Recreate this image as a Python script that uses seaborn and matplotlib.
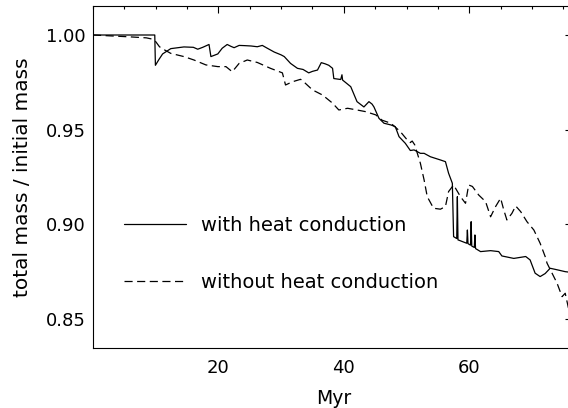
import numpy as np
import pandas as pd
import matplotlib
matplotlib.use("Agg")
import matplotlib.pyplot as plt
import seaborn as sns
from matplotlib.ticker import MultipleLocator, FixedLocator, FormatStrFormatter

# --- data ---
with_x = [0.0, 5.0, 9.85, 9.95, 10.5, 11.1, 12.4, 14.5, 16.0, 16.7, 17.5, 18.5, 18.8,
          19.9, 20.6, 21.4, 22.0, 22.5, 23.3, 24.1, 25.2, 26.2, 27.0, 27.8, 28.9, 30.0,
          30.5, 31.5, 32.6, 33.5, 34.4, 35.0, 35.8, 36.4, 37.0, 37.6, 38.2, 38.4, 39.5,
          39.7, 39.8, 41.1, 42.1, 43.2, 44.0, 44.5, 44.8, 45.6, 46.4, 47.5, 48.2, 48.8,
          49.8, 50.6, 51.2, 52.2, 52.8, 53.8, 55.4, 56.2, 56.7, 57.3, 57.5, 58.0, 58.1,
          58.2, 59.6, 59.7, 59.8, 60.2, 60.3, 60.4, 60.8, 60.9, 61.0, 61.8, 63.4, 64.7,
          65.2, 67.1, 69.0, 69.7, 70.5, 71.3, 72.1, 72.9, 74.0, 75.3, 76.5]
with_y = [1.000, 1.000, 1.000, 0.984, 0.987, 0.990, 0.9928, 0.9937, 0.9935, 0.9925,
          0.9935, 0.995, 0.9886, 0.990, 0.993, 0.995, 0.9940, 0.9933, 0.9945, 0.9944,
          0.9942, 0.9938, 0.9945, 0.9930, 0.9910, 0.9895, 0.9886, 0.9850, 0.9824,
          0.9818, 0.9800, 0.9808, 0.9815, 0.9854, 0.9848, 0.9840, 0.9824, 0.9770,
          0.9765, 0.9790, 0.9762, 0.9727, 0.9648, 0.9620, 0.9648, 0.9635, 0.9620,
          0.9560, 0.9534, 0.9525, 0.9516, 0.9463, 0.9428, 0.9390, 0.9393, 0.9375,
          0.9375, 0.9357, 0.9340, 0.9331, 0.9270, 0.9217, 0.8935, 0.8925, 0.9146,
          0.8918, 0.8900, 0.8970, 0.8898, 0.8890, 0.9014, 0.8885, 0.8878, 0.8944,
          0.8872, 0.8856, 0.8861, 0.8856, 0.8833, 0.8820, 0.8830, 0.8812, 0.8742,
          0.8724, 0.8740, 0.8768, 0.8760, 0.8750, 0.8745]

without_x = [0.0, 3.0, 6.0, 8.5, 9.5, 10.0, 10.6, 11.2, 12.4, 14.5, 16.1, 18.0, 19.9,
             21.2, 22.2, 23.3, 24.6, 26.2, 28.3, 30.2, 30.7, 31.8, 33.1, 33.6, 35.0,
             36.6, 38.2, 39.2, 40.6, 42.1, 43.5, 45.1, 46.1, 47.5, 49.0, 50.1, 50.6,
             50.9, 51.3, 52.2, 52.8, 53.3, 54.3, 55.4, 56.2, 56.7, 57.5, 58.6, 59.4,
             59.9, 60.5, 61.5, 62.6, 63.4, 64.2, 65.0, 65.5, 66.0, 66.8, 67.4, 68.2,
             69.2, 70.3, 71.3, 72.1, 72.4, 73.2, 74.0, 74.8, 75.3, 75.8, 76.5]
without_y = [1.000, 0.9995, 0.9990, 0.9985, 0.9978, 0.9965, 0.9938, 0.9925, 0.9903,
             0.9886, 0.9868, 0.9842, 0.9833, 0.9833, 0.9806, 0.9850, 0.9868, 0.9855,
             0.9824, 0.9800, 0.9736, 0.9753, 0.9766, 0.9753, 0.9710, 0.9683, 0.9640,
             0.9604, 0.9613, 0.9604, 0.9595, 0.9578, 0.9550, 0.9534, 0.9490, 0.9446,
             0.9432, 0.9440, 0.9420, 0.9323, 0.9234, 0.9146, 0.9085, 0.9080, 0.9094,
             0.9173, 0.9208, 0.9146, 0.9111, 0.9208, 0.9200, 0.9155, 0.9120, 0.9040,
             0.9094, 0.9138, 0.9076, 0.9023, 0.9058, 0.9097, 0.9067, 0.9014, 0.8970,
             0.8900, 0.8830, 0.8795, 0.8742, 0.8689, 0.8618, 0.8636, 0.8560, 0.8520]

labels = ["with heat conduction", "without heat conduction"]
x_label = "Myr"
y_label = "total mass / initial mass"
x_major = [20, 40, 60]

sns.set_theme(style="white")
plt.rcParams["font.family"] = ["DejaVu Sans"]

fig = plt.figure(figsize=(5.68, 4.08), dpi=100)
ax = fig.add_axes([93 / 568, 1 - 347.7 / 408, (574 - 93) / 568, (347.7 - 6) / 408])

df_w = pd.DataFrame({"x": with_x, "y": with_y})
df_wo = pd.DataFrame({"x": without_x, "y": without_y})

sns.lineplot(data=df_w, x="x", y="y", ax=ax, sort=False, estimator=None,
             color="black", lw=0.9, label=labels[0])
sns.lineplot(data=df_wo, x="x", y="y", ax=ax, sort=False, estimator=None,
             color="black", lw=0.9, label=labels[1])
ax.lines[1].set_linestyle((0, (6.5, 3.6)))

ax.set_xlim(0, 76.7)
ax.set_ylim(0.83484, 1.01532)

ax.xaxis.set_major_locator(FixedLocator(x_major))
ax.xaxis.set_minor_locator(MultipleLocator(5))
ax.yaxis.set_major_locator(MultipleLocator(0.05))
ax.yaxis.set_minor_locator(MultipleLocator(0.01))
ax.yaxis.set_major_formatter(FormatStrFormatter("%.2f"))
ax.xaxis.set_major_formatter(FormatStrFormatter("%d"))

ax.tick_params(which="both", direction="in", top=True, right=True,
               colors="black", width=0.8, labelsize=13)
ax.tick_params(axis="y", which="major", length=6.5, pad=5)
ax.tick_params(axis="y", which="minor", length=3.6)
ax.tick_params(axis="x", which="major", length=4.7, pad=8)
ax.tick_params(axis="x", which="minor", length=2.2)
for s in ax.spines.values():
    s.set_color("black")
    s.set_linewidth(0.8)

ax.set_xlabel(x_label, fontsize=13.5, color="black", labelpad=9)
ax.set_ylabel(y_label, fontsize=14.5, color="black", labelpad=10)

leg = ax.legend(loc="upper left", bbox_to_anchor=(0.0644, 0.385), frameon=False,
                fontsize=14, handlelength=3.2, handletextpad=0.75,
                labelspacing=1.95, borderpad=0, borderaxespad=0)
for t in leg.get_texts():
    t.set_color("black")

fig.savefig("out.png", dpi=100)
